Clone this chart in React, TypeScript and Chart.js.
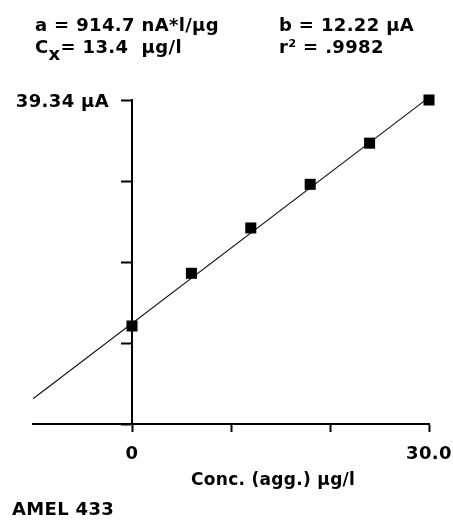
import React, { useEffect, useRef } from "react";
import { Chart, registerables } from "chart.js";

Chart.register(...registerables);

// Data (standard addition plot)
const concValues = [0, 6, 12, 18, 24, 30];
const currentValues = [11.9, 18.3, 23.8, 29.1, 34.1, 39.34];
const fitLineX = [-10, 30];
const fitLineY = [3.07, 39.66];
const xTicks = [0, 10, 20, 30];
const xTickLabels = ["0", "", "", "30.0"];
const yTicks = [0, 9.835, 19.67, 29.505, 39.34];
const yMaxLabel = "39.34 µA";
const xMin = -10;
const xMax = 30;
const yMin = 0;
const yMax = 39.34;

const statA = "a = 914.7 nA*l/µg";
const statB = "b = 12.22 µA";
const statCxValue = "= 13.4  µg/l";
const statR2 = "r² = .9982";
const xTitle = "Conc. (agg.) µg/l";
const sampleName = "AMEL 433";

const FONT = "'DejaVu Sans', sans-serif";
const SPACING = "0.35px";

const textStyle: React.CSSProperties = {
  position: "absolute",
  fontFamily: FONT,
  fontWeight: "bold",
  fontSize: 18,
  lineHeight: "18px",
  letterSpacing: SPACING,
  whiteSpace: "pre",
  color: "#000",
};

export default function App() {
  const canvasRef = useRef<HTMLCanvasElement | null>(null);

  useEffect(() => {
    if (!canvasRef.current) return;
    const helperPlugin = {
      id: "helper",
      beforeLayout(chart: any) {
        chart.ctx.letterSpacing = SPACING;
      },
      beforeDraw(chart: any) {
        chart.ctx.letterSpacing = SPACING;
        const ys = chart.scales.y;
        const items = ys.getLabelItems();
        if (!(ys as any)._shifted) {
          items.forEach((it: any) => {
            it.options.translation[0] -= 23;
            it.options.translation[1] += 2;
          });
          (ys as any)._shifted = true;
        }
      },
    };
    const chart = new Chart(canvasRef.current, {
      type: "scatter",
      data: {
        datasets: [
          {
            type: "line",
            label: "fit",
            data: fitLineX.map((x, i) => ({ x, y: fitLineY[i] })),
            borderColor: "#111",
            borderWidth: 1.1,
            pointRadius: 0,
            fill: false,
            clip: 8,
            order: 2,
          } as any,
          {
            label: "data",
            data: concValues.map((x, i) => ({ x, y: currentValues[i] })),
            pointStyle: "rect",
            pointRadius: 7.8,
            pointHoverRadius: 7.8,
            backgroundColor: "#000",
            borderColor: "#000",
            borderWidth: 0,
            clip: 10,
            order: 1,
          } as any,
        ],
      },
      options: {
        animation: false,
        responsive: false,
        events: [],
        layout: { padding: { left: 33, right: 24, top: 100, bottom: 0 } },
        plugins: {
          legend: { display: false },
          tooltip: { enabled: false },
          title: { display: false },
        },
        scales: {
          x: {
            type: "linear",
            position: "bottom",
            min: xMin,
            max: xMax,
            afterBuildTicks(scale: any) {
              scale.ticks = xTicks.map((v) => ({ value: v }));
            },
            afterFit(scale: any) {
              scale.height = 101;
              scale.paddingLeft = 0;
              scale.paddingRight = 0;
            },
            ticks: {
              autoSkip: false,
              maxRotation: 0,
              padding: 12,
              color: "#000",
              font: { family: FONT, weight: "bold", size: 18 },
              callback: (v: any) => {
                const i = xTicks.indexOf(Number(v));
                return i >= 0 ? xTickLabels[i] : "";
              },
            },
            grid: {
              drawOnChartArea: false,
              drawTicks: true,
              tickLength: 8,
              tickWidth: 2,
              tickColor: "#000",
            },
            border: { display: true, color: "#000", width: 2 },
          },
          y: {
            type: "linear",
            position: { x: 0 } as any,
            min: yMin,
            max: yMax,
            afterBuildTicks(scale: any) {
              scale.ticks = yTicks.map((v) => ({ value: v }));
            },
            afterFit(scale: any) {
              scale.paddingTop = 0;
              scale.paddingBottom = 0;
            },
            ticks: {
              autoSkip: false,
              padding: 14,
              color: "#000",
              font: { family: FONT, weight: "bold", size: 18 },
              callback: (v: any) => (Number(v) === yMax ? yMaxLabel : ""),
            },
            grid: {
              drawOnChartArea: false,
              drawTicks: true,
              tickLength: 10,
              tickWidth: 2,
              tickColor: "#000",
            },
            border: { display: true, color: "#000", width: 2 },
          },
        },
      },
      plugins: [helperPlugin],
    } as any);
    return () => chart.destroy();
  }, []);

  return (
    <div
      style={{
        position: "absolute",
        left: 0,
        top: 0,
        width: 453,
        height: 525,
        background: "#fff",
      }}
    >
      <canvas
        ref={canvasRef}
        width={453}
        height={525}
        style={{ position: "absolute", left: 0, top: 0 }}
      />
      <div style={{ ...textStyle, left: 35, top: 16 }}>{statA}</div>
      <div style={{ ...textStyle, left: 279, top: 16 }}>{statB}</div>
      <div style={{ ...textStyle, left: 35, top: 38 }}>
        C<span style={{ position: "relative", top: 7 }}>x</span>
        {statCxValue}
      </div>
      <div style={{ ...textStyle, left: 279, top: 38 }}>{statR2}</div>
      <div style={{ ...textStyle, left: 191, top: 470, fontSize: 17, letterSpacing: "0.3px" }}>{xTitle}</div>
      <div style={{ ...textStyle, left: 12, top: 500 }}>{sampleName}</div>
    </div>
  );
}
